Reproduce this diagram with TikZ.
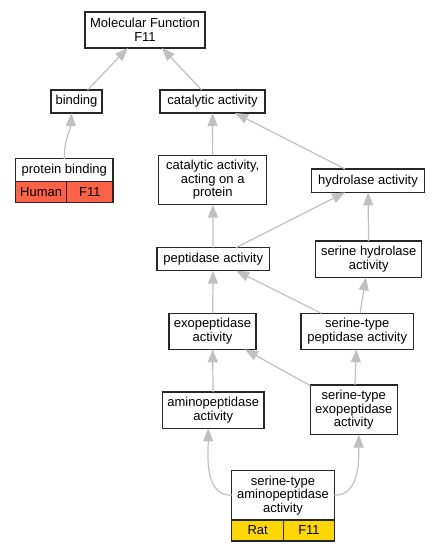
\documentclass[tikz,border=0pt]{standalone}
\usepackage{fontspec}
\setmainfont{Liberation Sans}
\usepackage{tikz}
\usetikzlibrary{arrows.meta,positioning}
\definecolor{edgegray}{HTML}{C0C0C0}
\definecolor{human}{HTML}{FF6347}
\definecolor{rat}{HTML}{FFD700}

\begin{document}
\begin{tikzpicture}[
    x=1pt, y=-1pt,
    term/.style={rectangle, draw=black!85, line width=1.2pt, fill=white, align=center,
        inner sep=0pt, outer sep=0pt, font=\fontsize{13}{13.6}\selectfont},
    cell/.style={rectangle, draw=black!85, line width=1.2pt, inner sep=0pt, outer sep=0pt,
        minimum height=21pt, font=\fontsize{13}{13.6}\selectfont},
    isa/.style={-{Triangle[length=13pt,width=10pt]}, edgegray, line width=1.2pt}
]
\useasboundingbox (0,0) rectangle (440,552);

% Root
\node[term, minimum width=120pt, minimum height=36pt] (mf) at (145,30) {Molecular Function\\F11};

% Second level
\node[term, minimum width=51pt, minimum height=23pt] (bind) at (76.5,101.5) {binding};
\node[term, minimum width=105pt, minimum height=23pt] (cat) at (212.5,101.5) {catalytic activity};

% Annotated term (human)
\node[term, minimum width=97.3pt, minimum height=22.3pt] (pb) at (64.3,170) {protein binding};
\node[cell, fill=human, minimum width=51pt, below right=0pt and 0pt of pb.south west] (pbh) {Human};
\node[cell, fill=human, minimum width=46.3pt, right=0pt of pbh] (pbg) {F11};

% Middle terms
\node[term, minimum width=108pt, minimum height=49.4pt] (caap) at (212.7,180) {catalytic activity,\\acting on a\\protein};
\node[term, minimum width=112.6pt, minimum height=23.3pt] (hyd) at (368,180.7) {hydrolase activity};
\node[term, minimum width=112.3pt, minimum height=23pt] (pep) at (213.2,259.2) {peptidase activity};
\node[term, minimum width=106pt, minimum height=36.3pt] (shy) at (368.7,259.2) {serine hydrolase\\activity};
\node[term, minimum width=87pt, minimum height=36pt] (exo) at (212.5,331.3) {exopeptidase\\activity};
\node[term, minimum width=112.3pt, minimum height=36pt] (stp) at (357.2,331.3) {serine-type\\peptidase activity};
\node[term, minimum width=101.7pt, minimum height=36.3pt] (amino) at (213.2,410.2) {aminopeptidase\\activity};
\node[term, minimum width=87pt, minimum height=49.7pt] (ste) at (353.8,409.8) {serine-type\\exopeptidase\\activity};

% Annotated term (rat)
\node[term, minimum width=102.6pt, minimum height=49.3pt] (stap) at (283,495.3) {serine-type\\aminopeptidase\\activity};
\node[cell, fill=rat, minimum width=52pt, below right=0pt and 0pt of stap.south west] (stapr) {Rat};
\node[cell, fill=rat, minimum width=50.6pt, right=0pt of stapr] (stapg) {F11};

% Edges
\draw[isa] (bind) -- (mf);
\draw[isa] (cat) -- (mf);
\draw[isa] (pb.north) .. controls +(0,-22) and +(-1,18) .. ([xshift=-5pt]bind.south);
\draw[isa] (caap) -- (cat);
\draw[isa] (hyd) -- (cat);
\draw[isa] (pep) -- (caap);
\draw[isa] (pep) -- (hyd);
\draw[isa] (shy) -- (hyd);
\draw[isa] (exo) -- (pep);
\draw[isa] (stp) -- (pep);
\draw[isa] (stp) -- (shy);
\draw[isa] (amino) -- (exo);
\draw[isa] (ste) -- (exo);
\draw[isa] (ste) -- (stp);
\draw[isa] (stap.west) to[out=180, in=-90] ([xshift=-5pt]amino.south);
\draw[isa] (stap.east) to[out=0, in=-90] ([xshift=5pt]ste.south);

\end{tikzpicture}
\end{document}
